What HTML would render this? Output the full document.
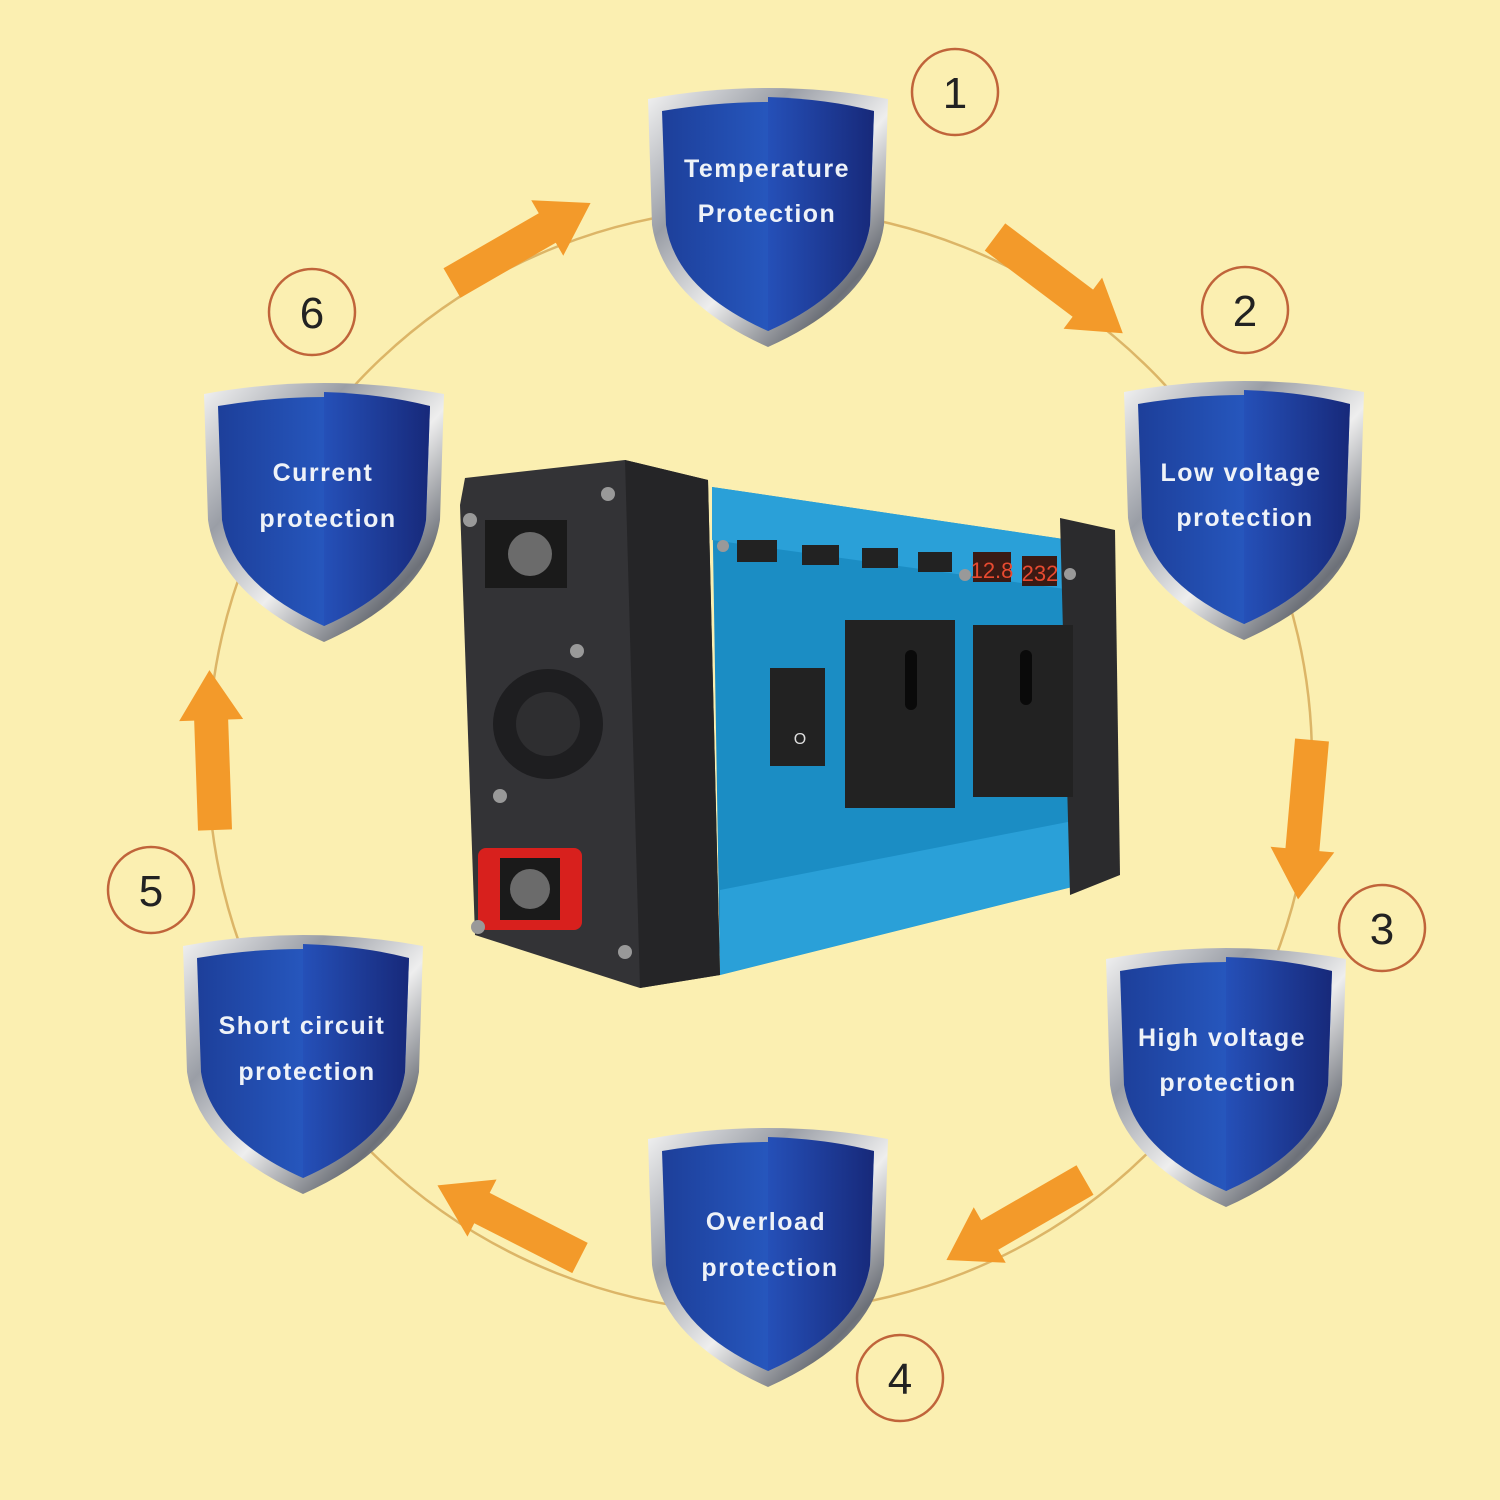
<!DOCTYPE html>
<html><head><meta charset="utf-8"><style>
html,body{margin:0;padding:0;background:#fbefb1;}
svg{display:block}
text{font-family:"Liberation Sans","DejaVu Sans",sans-serif;}
</style></head><body>
<svg width="1500" height="1500" viewBox="0 0 1500 1500" xmlns="http://www.w3.org/2000/svg">
<defs>
<linearGradient id="metal" x1="0" y1="0" x2="1" y2="1">
<stop offset="0" stop-color="#f4f4f4"/><stop offset="0.3" stop-color="#9a9ea6"/><stop offset="0.55" stop-color="#eeeeee"/><stop offset="0.8" stop-color="#6c7078"/><stop offset="1" stop-color="#d8d8d8"/>
</linearGradient>
<linearGradient id="blueL" x1="0" y1="0" x2="1" y2="0">
<stop offset="0" stop-color="#1d3f9a"/><stop offset="1" stop-color="#2f6ee0"/>
</linearGradient>
<linearGradient id="blueR" x1="0" y1="0" x2="1" y2="0">
<stop offset="0" stop-color="#2550b8"/><stop offset="1" stop-color="#17297a"/>
</linearGradient>
<g id="shield">
<path d="M0,14 Q120,-8 240,14 L236,140 Q225,215 120,262 Q15,215 4,140 Z" fill="url(#metal)"/>
<path d="M14,26 Q120,8 226,26 L222,140 Q212,205 120,246 Q28,205 18,140 Z" fill="url(#blueL)"/>
<path d="M120,12 Q180,14 226,26 L222,140 Q212,205 120,246 Z" fill="url(#blueR)"/>
</g>
<g id="arr"><polygon points="0,-17 110,-17 110,-32 160,0 110,32 110,17 0,17" fill="#f39a2a"/></g>
</defs>
<circle cx="760" cy="760" r="552" fill="none" stroke="#dcb567" stroke-width="2.5"/>

<use href="#arr" transform="translate(452,283) rotate(-30)"/>
<use href="#arr" transform="translate(995,237) rotate(37)"/>
<use href="#arr" transform="translate(1312,740) rotate(95)"/>
<use href="#arr" transform="translate(1085,1180) rotate(150)"/>
<use href="#arr" transform="translate(580,1258) rotate(-153)"/>
<use href="#arr" transform="translate(215,830) rotate(-92)"/>

<g fill="#fbefb1" stroke="#c0643a" stroke-width="2.5">
<circle cx="955" cy="92" r="43"/><circle cx="1245" cy="310" r="43"/><circle cx="1382" cy="928" r="43"/>
<circle cx="900" cy="1378" r="43"/><circle cx="151" cy="890" r="43"/><circle cx="312" cy="312" r="43"/>
</g>
<g font-size="44" fill="#222" text-anchor="middle">
<text x="955" y="108">1</text><text x="1245" y="326">2</text><text x="1382" y="944">3</text>
<text x="900" y="1394">4</text><text x="151" y="906">5</text><text x="312" y="328">6</text>
</g>

<use href="#shield" x="648" y="85"/>
<use href="#shield" x="1124" y="378"/>
<use href="#shield" x="1106" y="945"/>
<use href="#shield" x="648" y="1125"/>
<use href="#shield" x="183" y="932"/>
<use href="#shield" x="204" y="380"/>
<g font-size="25" font-weight="bold" fill="#eef2f8" text-anchor="middle" letter-spacing="1.5">
<text x="767" y="177">Temperature</text><text x="767" y="222">Protection</text>
<text x="1241" y="481">Low voltage</text><text x="1245" y="526">protection</text>
<text x="1222" y="1046">High voltage</text><text x="1228" y="1091">protection</text>
<text x="766" y="1230">Overload</text><text x="770" y="1276">protection</text>
<text x="302" y="1034">Short circuit</text><text x="307" y="1080">protection</text>
<text x="323" y="481">Current</text><text x="328" y="527">protection</text>
</g>

<!-- inverter -->
<polygon points="712,487 1070,540 1080,885 720,975" fill="#1b8dc4"/>
<polygon points="712,487 1070,540 1072,590 712,540" fill="#2aa0d8"/>
<polygon points="720,890 1078,820 1080,885 720,975" fill="#2aa0d8"/>
<polygon points="1060,518 1115,530 1120,875 1070,895" fill="#2b2b2d"/>
<polygon points="465,478 625,460 708,480 720,975 640,988 475,935 460,505" fill="#333336"/>
<polygon points="625,460 708,480 720,975 640,988" fill="#252527"/>
<rect x="485" y="520" width="82" height="68" fill="#1a1a1a"/>
<circle cx="530" cy="554" r="22" fill="#6b6b6b"/>
<rect x="478" y="848" width="104" height="82" rx="8" fill="#d8201d"/>
<rect x="500" y="858" width="60" height="62" fill="#1a1a1a"/>
<circle cx="530" cy="889" r="20" fill="#6b6b6b"/>
<circle cx="548" cy="724" r="55" fill="#1e1e20"/>
<circle cx="548" cy="724" r="32" fill="#2e2e30"/>
<g fill="#999"><circle cx="470" cy="520" r="7"/><circle cx="608" cy="494" r="7"/><circle cx="577" cy="651" r="7"/><circle cx="500" cy="796" r="7"/><circle cx="478" cy="927" r="7"/><circle cx="625" cy="952" r="7"/><circle cx="723" cy="546" r="6"/><circle cx="965" cy="575" r="6"/><circle cx="1070" cy="574" r="6"/></g>
<g fill="#222"><rect x="737" y="540" width="40" height="22"/><rect x="802" y="545" width="37" height="20"/><rect x="862" y="548" width="36" height="20"/><rect x="918" y="552" width="34" height="20"/></g>
<rect x="973" y="552" width="38" height="30" fill="#3a1a14"/><rect x="1022" y="556" width="35" height="30" fill="#3a1a14"/>
<text x="992" y="578" font-size="22" fill="#e84a30" text-anchor="middle">12.8</text>
<text x="1040" y="581" font-size="22" fill="#e84a30" text-anchor="middle">232</text>
<rect x="770" y="668" width="55" height="98" fill="#222"/>
<text x="800" y="744" font-size="16" fill="#ddd" text-anchor="middle">O</text>
<rect x="845" y="620" width="110" height="188" fill="#222"/>
<rect x="973" y="625" width="100" height="172" fill="#222"/>
<g fill="#0a0a0a"><rect x="905" y="650" width="12" height="60" rx="6"/><rect x="1020" y="650" width="12" height="55" rx="6"/></g>
</svg>
</body></html>
